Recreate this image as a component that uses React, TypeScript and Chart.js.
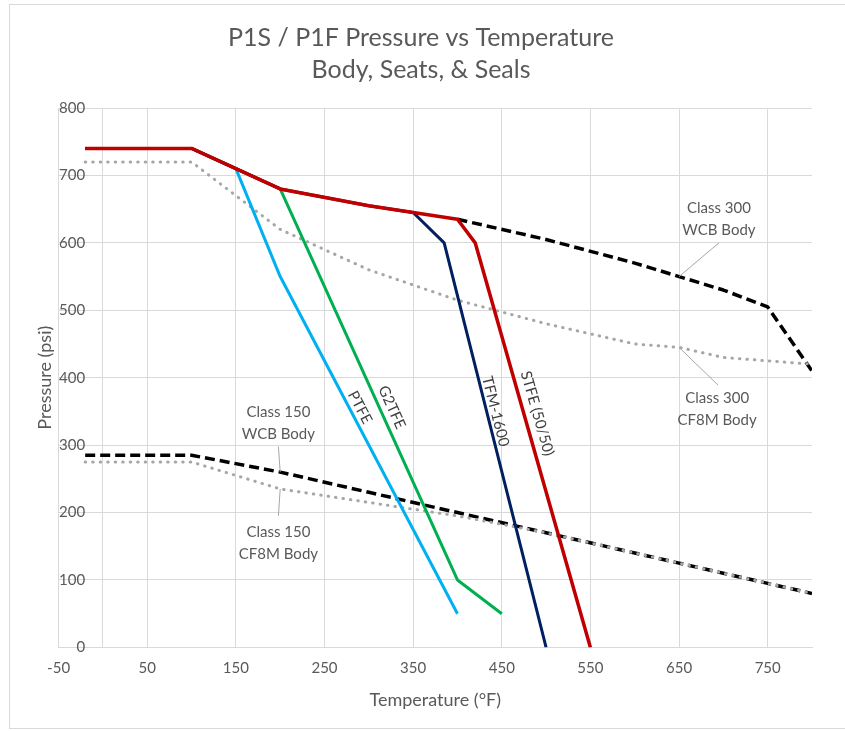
import { useEffect, useRef } from "react";
import { Chart, registerables } from "chart.js";

Chart.register(...registerables);

const FONT = "Lato, 'Open Sans', sans-serif";
const TEXT = "#595959";
const GRID = "#d9d9d9";

// axis ticks
const X_TICKS = [-50, 50, 150, 250, 350, 450, 550, 650, 750];
const X_AXIS_CROSS = 0; // vertical value axis crosses at 0 °F
const Y_LABEL_AT = -20; // y tick labels sit just left of the crossing
const Y_TICKS = [0, 100, 200, 300, 400, 500, 600, 700, 800];

// seat / seal materials (°F, psi)
const STFE_T = [-20, 100, 200, 300, 400, 420, 550];
const STFE_P = [740, 740, 680, 655, 635, 600, 0];
const TFM_T = [-20, 100, 200, 300, 350, 385, 500];
const TFM_P = [740, 740, 680, 655, 645, 600, 0];
const G2TFE_T = [-20, 100, 200, 400, 450];
const G2TFE_P = [740, 740, 680, 100, 50];
const PTFE_T = [-20, 100, 150, 200, 400];
const PTFE_P = [740, 740, 710, 550, 50];

// body ratings
const C300_WCB_T = [400, 500, 600, 650, 700, 750, 800];
const C300_WCB_P = [635, 605, 570, 550, 530, 505, 410];
const C300_CF8M_T = [-20, 100, 200, 300, 400, 500, 600, 650, 700, 750, 800];
const C300_CF8M_P = [720, 720, 620, 560, 515, 480, 450, 445, 430, 425, 420];
const C150_WCB_T = [-20, 100, 200, 300, 400, 500, 600, 650, 700, 750, 800];
const C150_WCB_P = [285, 285, 260, 230, 200, 170, 140, 125, 110, 95, 80];
const C150_CF8M_T = [-20, 100, 200, 300, 400, 500, 600, 650, 700, 750, 800];
const C150_CF8M_P = [275, 275, 235, 215, 195, 170, 140, 125, 110, 95, 80];

// callout labels: text centre (T, P), leader from (T, P) to (T, P)
const CALLOUTS = [
  { lines: ["Class 300", "WCB Body"], t: 695, p: 635, leader: [695, 600, 650, 550] },
  { lines: ["Class 300", "CF8M Body"], t: 693, p: 353, leader: [694, 389, 650, 445] },
  { lines: ["Class 150", "WCB Body"], t: 198, p: 332, leader: [198, 298, 200, 260] },
  { lines: ["Class 150", "CF8M Body"], t: 198, p: 155, leader: [198, 195, 200, 235] },
];

// rotated series labels: centre (T, P), angle from segment (T1,P1)-(T2,P2)
const SERIES_LABELS = [
  { text: "PTFE", t: 290, p: 356, seg: [200, 550, 400, 50] },
  { text: "G2TFE", t: 326, p: 356, seg: [200, 680, 400, 100] },
  { text: "TFM-1600", t: 443, p: 350, seg: [385, 600, 500, 0] },
  { text: "STFE (50/50)", t: 490, p: 347, seg: [420, 600, 550, 0] },
];

const pts = (t: number[], p: number[]) => t.map((v, i) => ({ x: v, y: p[i] }));

const annotationPlugin = {
  id: "annotations",
  afterDatasetsDraw(chart: any) {
    const { ctx, scales } = chart;
    const x = scales.x;
    const y = scales.y;
    ctx.save();
    ctx.strokeStyle = "#a6a6a6";
    ctx.lineWidth = 1;
    for (const c of CALLOUTS) {
      const [t1, p1, t2, p2] = c.leader;
      ctx.beginPath();
      ctx.moveTo(x.getPixelForValue(t1), y.getPixelForValue(p1));
      ctx.lineTo(x.getPixelForValue(t2), y.getPixelForValue(p2));
      ctx.stroke();
    }
    ctx.fillStyle = TEXT;
    ctx.font = `15px ${FONT}`;
    ctx.textAlign = "center";
    ctx.textBaseline = "middle";
    const lh = 22;
    for (const c of CALLOUTS) {
      const cx = x.getPixelForValue(c.t);
      const cy = y.getPixelForValue(c.p);
      c.lines.forEach((ln, i) => {
        ctx.fillText(ln, cx, cy + (i - (c.lines.length - 1) / 2) * lh);
      });
    }
    ctx.fillStyle = "#404040";
    for (const s of SERIES_LABELS) {
      const [t1, p1, t2, p2] = s.seg;
      const dx = x.getPixelForValue(t2) - x.getPixelForValue(t1);
      const dy = y.getPixelForValue(p2) - y.getPixelForValue(p1);
      const ang = Math.atan2(dy, dx);
      ctx.save();
      ctx.translate(x.getPixelForValue(s.t), y.getPixelForValue(s.p));
      ctx.rotate(ang);
      ctx.fillText(s.text, 0, 0);
      ctx.restore();
    }
    ctx.restore();
  },
};

export default function App() {
  const ref = useRef<HTMLCanvasElement | null>(null);

  useEffect(() => {
    if (!ref.current) return;
    const solid = (label: string, t: number[], p: number[], color: string, w: number) => ({
      label,
      data: pts(t, p),
      showLine: true,
      borderColor: color,
      backgroundColor: color,
      borderWidth: w,
      pointRadius: 0,
      borderJoinStyle: "round" as const,
      borderCapStyle: "butt" as const,
      tension: 0,
      fill: false,
    });
    const chart = new Chart(ref.current, {
      type: "scatter",
      data: {
        datasets: [
          solid("STFE (50/50)", STFE_T, STFE_P, "#C00000", 3.5),
          solid("TFM-1600", TFM_T, TFM_P, "#002060", 3),
          solid("G2TFE", G2TFE_T, G2TFE_P, "#00B050", 3),
          solid("PTFE", PTFE_T, PTFE_P, "#00B0F0", 3),
          {
            ...solid("Class 300 CF8M Body", C300_CF8M_T, C300_CF8M_P, "#a6a6a6", 3),
            borderDash: [0.5, 7],
            borderCapStyle: "round" as const,
          },
          {
            ...solid("Class 150 CF8M Body", C150_CF8M_T, C150_CF8M_P, "#a6a6a6", 3),
            borderDash: [0.5, 7],
            borderCapStyle: "round" as const,
          },
          {
            ...solid("Class 300 WCB Body", C300_WCB_T, C300_WCB_P, "#000000", 3.5),
            borderDash: [10, 5],
          },
          {
            ...solid("Class 150 WCB Body", C150_WCB_T, C150_WCB_P, "#000000", 3.5),
            borderDash: [10, 5],
          },
        ],
      },
      options: {
        animation: false,
        responsive: false,
        devicePixelRatio: 1,
        layout: { padding: { left: 30, right: 33, top: 0, bottom: 13 } },
        plugins: {
          legend: { display: false },
          tooltip: { enabled: false },
          title: {
            display: true,
            text: ["P1S / P1F Pressure vs Temperature", "Body, Seats, & Seals"],
            color: TEXT,
            font: { family: FONT, size: 25, weight: "normal", lineHeight: 32 / 25 },
            padding: { top: 22, bottom: 22 },
          },
        },
        scales: {
          x: {
            type: "linear",
            min: -50,
            max: 800,
            afterBuildTicks: (scale: any) => {
              scale.ticks = [...X_TICKS, X_AXIS_CROSS]
                .sort((a, b) => a - b)
                .map((v) => ({ value: v }));
            },
            grid: { color: GRID, drawTicks: false, lineWidth: 1 },
            border: { display: true, color: GRID },
            ticks: {
              color: TEXT,
              font: { family: FONT, size: 15 },
              padding: 12,
              maxRotation: 0,
              autoSkip: false,
              callback: (v: any) => (X_TICKS.includes(Number(v)) ? String(v) : ""),
            },
            title: {
              display: true,
              text: "Temperature (°F)",
              color: TEXT,
              font: { family: FONT, size: 18 },
              padding: { top: 0, bottom: 7 },
            },
          },
          y: {
            type: "linear",
            position: "left",
            min: 0,
            max: 800,
            afterBuildTicks: (scale: any) => {
              scale.ticks = Y_TICKS.map((v) => ({ value: v }));
            },
            grid: { color: GRID, drawTicks: false },
            border: { display: false },
            ticks: { display: false },
            title: {
              display: true,
              text: "Pressure (psi)",
              color: TEXT,
              font: { family: FONT, size: 18 },
              padding: { top: 4, bottom: 3 },
            },
          },
          y0: {
            type: "linear",
            position: { x: Y_LABEL_AT } as any,
            min: 0,
            max: 800,
            afterBuildTicks: (scale: any) => {
              scale.ticks = Y_TICKS.map((v) => ({ value: v }));
            },
            grid: { drawOnChartArea: false, drawTicks: false },
            border: { display: false },
            ticks: {
              color: TEXT,
              font: { family: FONT, size: 15 },
              padding: 0,
            },
          },
        },
      } as any,
      plugins: [annotationPlugin],
    });
    return () => chart.destroy();
  }, []);

  return (
    <div
      style={{
        position: "fixed",
        left: 0,
        top: 0,
        width: 845,
        height: 731,
        overflow: "hidden",
        background: "#fff",
      }}
    >
      <div
        style={{
          position: "absolute",
          left: 9,
          top: 4,
          width: 850,
          height: 725,
          border: `1px solid ${GRID}`,
          boxSizing: "border-box",
        }}
      />
      <canvas
        ref={ref}
        width={845}
        height={731}
        style={{ position: "absolute", left: 0, top: 0, width: 845, height: 731 }}
      />
    </div>
  );
}
